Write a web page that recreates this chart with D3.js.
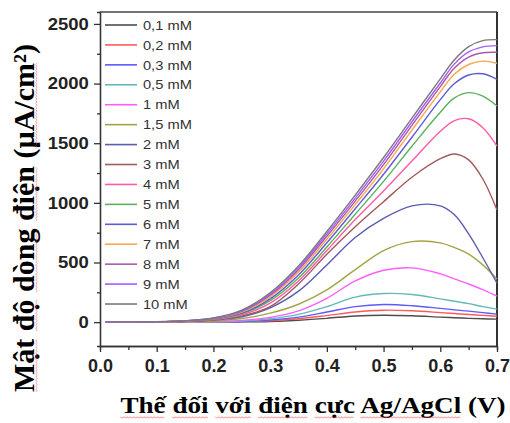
<!DOCTYPE html>
<html>
<head>
<meta charset="utf-8">
<script src="https://cdn.jsdelivr.net/npm/d3@7"></script>
<style>
    body { margin: 0; background: #fff; }
    #chart-area svg { display: block; }
</style>
</head>
<body>
<div id="chart-area"></div>
<script>

// potential (V) sampled for every curve
var potential = [0.01, 0.1, 0.15, 0.2, 0.25, 0.3, 0.35, 0.4, 0.45, 0.5, 0.55, 0.6, 0.625, 0.65, 0.675, 0.7];

// current density (uA/cm2), one array per concentration
var c01 = [0, 0, 0, 1, 2, 6, 16, 32, 52, 58, 53, 42, 37, 32, 28, 25];
var c02 = [0, 0, 1, 1, 4, 12, 28, 55, 85, 100, 95, 80, 72, 64, 57, 50];
var c03 = [0, 0, 1, 2, 6, 18, 42, 85, 130, 148, 138, 115, 103, 92, 80, 67];
var c05 = [0, 0, 1, 3, 10, 28, 65, 130, 210, 240, 232, 195, 175, 155, 130, 109];
var c1 = [0, 1, 2, 5, 15, 40, 95, 200, 345, 435, 455, 405, 362, 320, 272, 218];
var c15 = [0, 1, 3, 8, 30, 75, 150, 270, 440, 600, 675, 665, 625, 570, 480, 360];
var c2 = [0, 2, 6, 17, 45, 120, 260, 480, 710, 870, 975, 975, 900, 740, 540, 327];
var c3 = [0, 2, 7, 20, 52, 130, 320, 570, 800, 1010, 1215, 1370, 1410, 1360, 1200, 940];
var c4 = [0, 2, 8, 23, 62, 160, 345, 600, 860, 1100, 1350, 1600, 1690, 1705, 1630, 1476];
var c5 = [0, 2, 9, 25, 70, 180, 370, 630, 905, 1180, 1475, 1760, 1880, 1924, 1895, 1812];
var c6 = [0, 3, 10, 27, 76, 195, 395, 665, 950, 1240, 1550, 1865, 2000, 2072, 2082, 2036];
var c7 = [0, 3, 10, 29, 84, 212, 420, 695, 985, 1285, 1610, 1930, 2080, 2160, 2188, 2170];
var c8 = [0, 3, 11, 31, 90, 225, 440, 720, 1015, 1320, 1650, 1975, 2130, 2222, 2258, 2262];
var c9 = [0, 3, 11, 33, 95, 235, 455, 740, 1040, 1350, 1680, 2005, 2165, 2265, 2308, 2318];
var c10 = [0, 3, 12, 35, 100, 245, 470, 760, 1065, 1380, 1710, 2040, 2200, 2310, 2360, 2368];

var seriesNames = ["0,1 mM", "0,2 mM", "0,3 mM", "0,5 mM", "1 mM", "1,5 mM", "2 mM", "3 mM",
    "4 mM", "5 mM", "6 mM", "7 mM", "8 mM", "9 mM", "10 mM"];
var seriesValues = [c01, c02, c03, c05, c1, c15, c2, c3, c4, c5, c6, c7, c8, c9, c10];
var seriesColors = ["#4d4d4d", "#ff5a5a", "#5a5aff", "#66b8b8", "#ff5cff", "#a3a346", "#5c5cb0", "#a35a5a",
    "#ff5aa8", "#5cb05c", "#5c5cd6", "#ffa54a", "#a85aa8", "#a65cff", "#7a7a7a"];

var yTicks = [0, 500, 1000, 1500, 2000, 2500];
var xTicks = [0, 0.1, 0.2, 0.3, 0.4, 0.5, 0.6, 0.7];

var xTitle = "Thế đối với điện cực Ag/AgCl (V)";
var yTitle = "Mật độ dòng điện (µA/cm²)";
// words carrying the spell-check squiggle in the source
var xTitleMarked = ["Thế", "đối", "với", "điện", "cực", "Ag/AgCl"];
var yTitleMarked = ["Mật", "độ", "dòng", "điện", "µA/cm"];


CVChart = function(_parentElement){
    this.parentElement = _parentElement;
    this.data = seriesNames.map(function(name, i) {
        return {
            name: name,
            color: seriesColors[i],
            values: potential.map(function(v, j) { return {x: v, y: seriesValues[i][j]}; })
        };
    });
    this.initVis();
}

CVChart.prototype.initVis = function(){
    var vis = this;

    vis.margin = {top: 12, right: 13, bottom: 77, left: 100};
    vis.width = 510 - vis.margin.left - vis.margin.right;
    vis.height = 423 - vis.margin.top - vis.margin.bottom;

    vis.root = d3.select("#" + vis.parentElement).append("svg")
        .attr("width", 510)
        .attr("height", 423);

    vis.svg = vis.root.append("g")
        .attr("transform", "translate(" + vis.margin.left + "," + vis.margin.top + ")");

    vis.x = d3.scaleLinear().domain([0, 0.7]).range([0, vis.width]);
    vis.y = d3.scaleLinear().domain([-200, 2600]).range([vis.height, 0]);

    // minor ticks first, majors on top
    vis.svg.append("g")
        .attr("class", "axis minor")
        .call(d3.axisLeft(vis.y).tickValues(d3.range(250, 2500, 500)).tickSize(3).tickFormat(""));
    vis.svg.append("g")
        .attr("class", "axis minor")
        .attr("transform", "translate(0," + vis.height + ")")
        .call(d3.axisBottom(vis.x).tickValues(d3.range(0.05, 0.7, 0.1)).tickSize(4).tickFormat(""));

    vis.yAxis = vis.svg.append("g")
        .attr("class", "axis y-axis")
        .call(d3.axisLeft(vis.y).tickValues(yTicks).tickSize(6).tickPadding(4).tickSizeOuter(0)
            .tickFormat(d3.format("d")));
    vis.yAxis.selectAll("text")
        .attr("transform", "scale(1.12,1)");

    vis.xAxis = vis.svg.append("g")
        .attr("class", "axis x-axis")
        .attr("transform", "translate(0," + vis.height + ")")
        .call(d3.axisBottom(vis.x).tickValues(xTicks).tickSize(6).tickPadding(7).tickSizeOuter(0)
            .tickFormat(d3.format(".1f")));

    vis.svg.selectAll(".axis path, .axis line").attr("stroke", "#333").attr("stroke-width", 1.3);
    vis.svg.selectAll(".axis text")
        .attr("fill", "#222")
        .attr("font-family", "'Liberation Sans', Arial, sans-serif")
        .attr("font-weight", "bold");
    vis.yAxis.selectAll("text").attr("font-size", 16.5);
    vis.xAxis.selectAll("text").attr("font-size", 18);

    // top and right frame
    vis.svg.append("line")
        .attr("x1", 0).attr("x2", vis.width).attr("y1", 0).attr("y2", 0)
        .attr("stroke", "#444").attr("stroke-width", 1.5);
    vis.svg.append("line")
        .attr("x1", vis.width).attr("x2", vis.width).attr("y1", 0).attr("y2", vis.height)
        .attr("stroke", "#333").attr("stroke-width", 2);

    vis.line = d3.line()
        .x(function(d) { return vis.x(d.x); })
        .y(function(d) { return vis.y(d.y); })
        .curve(d3.curveCatmullRom.alpha(0.5));

    // axis titles (the source is a little stretched sideways)
    var xg = vis.root.append("g")
        .attr("transform", "translate(313,413) scale(1.13,1)");
    var xt = xg.append("text")
        .attr("text-anchor", "middle")
        .attr("font-family", "'Liberation Serif', 'Times New Roman', serif")
        .attr("font-weight", "bold")
        .attr("font-size", 24)
        .attr("fill", "#000")
        .text(xTitle);
    vis.squiggle(xg, xt, xTitleMarked, 4);

    var yg = vis.root.append("g")
        .attr("transform", "translate(34,218) rotate(-90)");
    var yt = yg.append("text")
        .attr("text-anchor", "middle")
        .attr("font-family", "'Liberation Serif', 'Times New Roman', serif")
        .attr("font-weight", "bold")
        .attr("font-size", 30)
        .attr("fill", "#000")
        .text(yTitle);
    vis.squiggle(yg, yt, yTitleMarked, 2);

    vis.updateVis();
}

// red wavy underline below some words of a centred text
CVChart.prototype.squiggle = function(g, textSel, words, dy){
    var node = textSel.node();
    var full = node.textContent;
    var start = -node.getComputedTextLength() / 2;

    words.forEach(function(w) {
        var i = full.indexOf(w);
        if (i < 0) return;
        var a = i === 0 ? 0 : node.getSubStringLength(0, i);
        var b = node.getSubStringLength(i, w.length);
        var pts = [];
        for (var x = start + a, k = 0; x <= start + a + b; x += 1.5, k++) {
            pts.push([x, dy + (k % 2 ? 1 : -0.2)]);
        }
        g.append("path")
            .attr("d", d3.line()(pts))
            .attr("fill", "none")
            .attr("stroke", "#ee4444")
            .attr("stroke-opacity", 0.55)
            .attr("stroke-width", 0.9);
    });
}

CVChart.prototype.updateVis = function(){
    var vis = this;

    vis.svg.selectAll(".curve")
        .data(vis.data)
        .enter().append("path")
        .attr("class", "curve")
        .attr("fill", "none")
        .attr("stroke", function(d) { return d.color; })
        .attr("stroke-width", 1.4)
        .attr("d", function(d) { return vis.line(d.values); });

    // legend inside the plot
    var legend = vis.svg.selectAll(".legend")
        .data(vis.data)
        .enter().append("g")
        .attr("class", "legend")
        .attr("transform", function(d, i) { return "translate(5," + (13 + i * 19.93) + ")"; });

    legend.append("line")
        .attr("x1", 0).attr("x2", 32)
        .attr("stroke", function(d) { return d.color; })
        .attr("stroke-width", 1.6);

    legend.append("text")
        .attr("x", 33.6)
        .attr("dy", "0.36em")
        .attr("transform", "scale(1.13,1)")
        .attr("font-family", "'Liberation Sans', Arial, sans-serif")
        .attr("font-size", 13)
        .attr("fill", "#333")
        .text(function(d) { return d.name; });
}

var chart = new CVChart("chart-area");

</script>
</body>
</html>
